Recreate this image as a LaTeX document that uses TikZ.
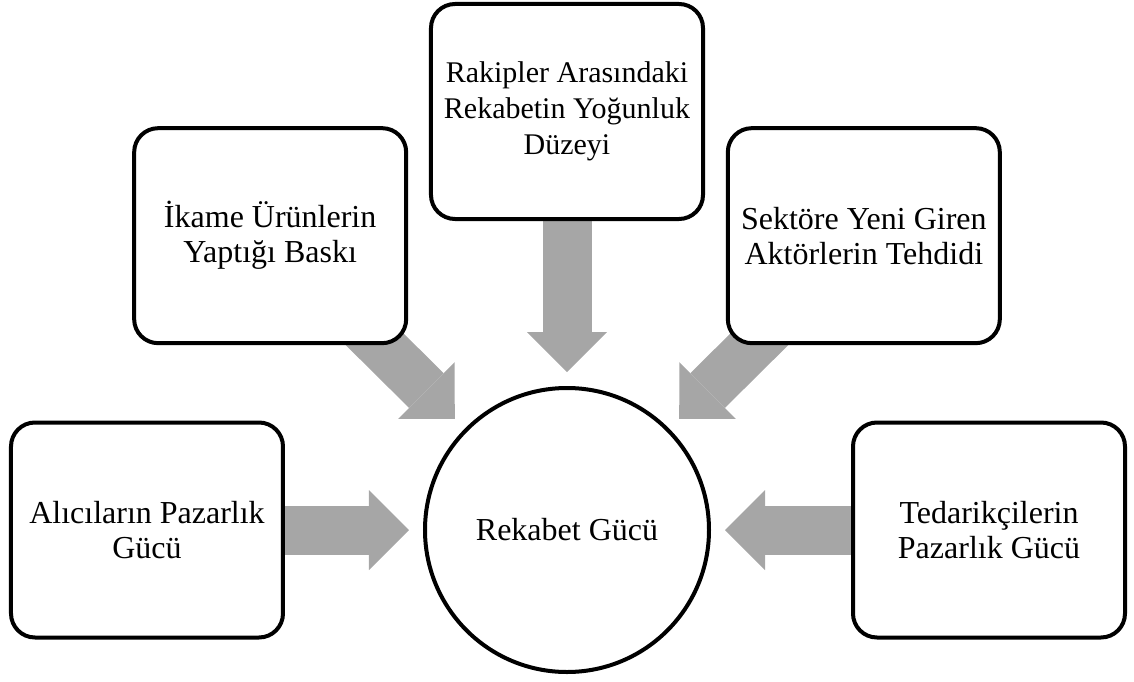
\documentclass[tikz,border=0pt]{standalone}
\usepackage{fontspec}
\setmainfont{Liberation Serif}
\usetikzlibrary{arrows.meta, positioning, backgrounds}
\definecolor{forcegray}{RGB}{166,166,166}

\begin{document}
\begin{tikzpicture}[
    font=\fontsize{16pt}{17.5pt}\selectfont,
    force/.style={rectangle, draw, line width=2pt, fill=white, align=center, rounded corners=12pt, minimum width=136pt, minimum height=107.5pt},
    rivalry/.style={circle, draw, line width=2pt, fill=white, align=center, minimum size=142pt},
    fatarrow/.style={-{Triangle[length=20pt, width=40pt, line width=0pt]}, line width=24.5pt, forcegray, shorten >=7pt}
]
    \useasboundingbox (-283.5pt,-75.5pt) rectangle (283.5pt,265pt);

    % Center
    \node[rivalry] (rekabet) at (0,0) {Rekabet Gücü};

    % Five forces
    \node[force, left=69pt of rekabet] (alici) {Alıcıların Pazarlık\\Gücü};
    \node[force, right=70pt of rekabet] (tedarik) {Tedarikçilerin\\Pazarlık Gücü};
    \node[force, above=82.5pt of rekabet, font=\fontsize{15pt}{18pt}\selectfont] (rakip) {Rakipler Arasındaki\\Rekabetin Yoğunluk\\Düzeyi};
    \node[force, above left=41.5pt and 28.5pt of rekabet] (ikame) {İkame Ürünlerin\\Yaptığı Baskı};
    \node[force, above right=41.5pt and 28.5pt of rekabet] (yeni) {Sektöre Yeni Giren\\Aktörlerin Tehdidi};

    % Arrows (behind the boxes)
    \begin{scope}[on background layer]
        \draw[fatarrow] (alici.center) -- (rekabet);
        \draw[fatarrow] (tedarik.center) -- (rekabet);
        \draw[fatarrow] (rakip.center) -- (rekabet);
        \draw[fatarrow] (ikame.center) -- (rekabet);
        \draw[fatarrow] (yeni.center) -- (rekabet);
    \end{scope}
\end{tikzpicture}
\end{document}
